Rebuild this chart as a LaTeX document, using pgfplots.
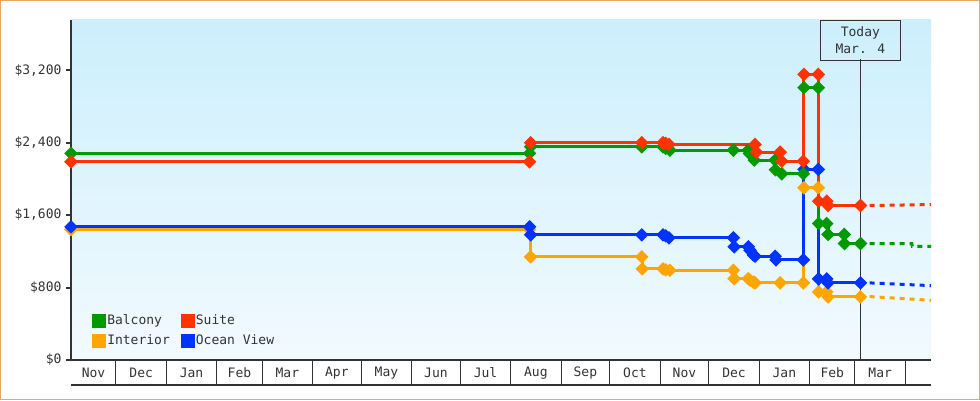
\documentclass[border=0pt]{standalone}
\usepackage{pgfplots}
\pgfplotsset{compat=1.18}
\usepackage{fontspec}
\setmainfont{DejaVu Sans Mono}
\definecolor{cgreen}{RGB}{0,153,0}
\definecolor{cred}{RGB}{255,51,0}
\definecolor{corange}{RGB}{255,165,0}
\definecolor{cblue}{RGB}{0,51,255}
\definecolor{axgray}{RGB}{51,51,51}
\definecolor{bgtop}{RGB}{204,239,252}
\definecolor{bgbot}{RGB}{242,250,255}
\definecolor{framec}{RGB}{232,168,102}
\begin{document}
\fontsize{13pt}{15pt}\selectfont
\begin{tikzpicture}[x=1pt,y=1pt]
\useasboundingbox (0,0) rectangle (980,400);
\draw[framec, line width=1pt] (0.5,0.5) rectangle (979.5,399.5);
\begin{axis}[
  at={(71pt,40pt)}, anchor=south west,
  width=860pt, height=340pt, scale only axis,
  xmin=2.3, xmax=531.8, ymin=0, ymax=3752,
  axis background/.style={top color=bgtop, bottom color=bgbot},
  axis x line*=bottom, axis y line*=left,
  axis line style={line width=2pt, axgray},
  clip=false,
  tick align=outside, major tick length=5pt,
  ytick={0,800,1600,2400,3200},
  yticklabels={{\$0},{\$800},{\$1,600},{\$2,400},{\$3,200}},
  ytick style={line width=2pt, axgray},
  xtick={16.2,45.5,76.5,106,135.5,166,196.5,227,257.5,288.5,319,349.5,380,410.5,441.5,471,500.5},
  xticklabels={Nov,Dec,Jan,Feb,Mar,Apr,May,Jun,Jul,Aug,Sep,Oct,Nov,Dec,Jan,Feb,Mar},
  xtick style={draw=none},
  xticklabel style={anchor=center, yshift=-8pt},
  tick label style={font=\fontsize{13pt}{15pt}\selectfont, text=axgray},
  legend image code/.code={\fill[#1] (0pt,-5.5pt) rectangle (11pt,5.5pt);},
  legend columns=2,
  legend cell align=left,
  legend style={at={(0.021,0.03)}, anchor=south west, draw=none, fill=none,
    font=\fontsize{13pt}{15pt}\selectfont, text=axgray, row sep=6pt,
    nodes={inner xsep=1pt, inner ysep=1pt},
    /tikz/every even column/.append style={column sep=10pt}},
  every axis plot/.append style={const plot, line width=3pt, mark=square*, mark size=3.3pt, mark options={rotate=45, solid}},
]
% month band
\pgfplotsinvokeforeach{30,61,92,120,151,181,212,242,273,304,334,365,395,426,457,485,516}{
  \draw[axgray, line width=1pt] (axis cs:#1,0) -- ([yshift=-25pt]axis cs:#1,0);
}
\draw[axgray, line width=1.5pt] ([yshift=-25pt]rel axis cs:0,0) -- ([yshift=-25pt]rel axis cs:1,0);
% today
\draw[axgray, line width=1pt] (axis cs:488.3,0) -- (axis cs:488.3,3318);
\node[draw=axgray, line width=1pt, minimum width=80pt, minimum height=40pt, anchor=north, align=center, text=axgray, inner sep=2pt]
  at (axis cs:488.3,3752) {Today\\[2pt]Mar. 4};

\addlegendimage{cgreen}\addlegendentry{Balcony}
\addlegendimage{cred}\addlegendentry{Suite}
\addlegendimage{corange}\addlegendentry{Interior}
\addlegendimage{cblue}\addlegendentry{Ocean View}

% Interior
\addplot[corange, forget plot] coordinates {
(2.3,1440) (284.6,1440) (285.3,1138) (353.7,1138) (354.0,1005) (366.8,1005) (368.5,995) (371.0,990)
(410.1,990) (410.6,898) (419.3,898) (420.4,880) (422.4,860) (423.5,851) (438.9,851) (453.2,851)
(453.6,1901) (462.4,1901) (462.6,751) (467.6,751) (468.4,696) (488.4,696)};
% Ocean View
\addplot[cblue, forget plot] coordinates {
(2.3,1470) (284.6,1470) (285.3,1381) (353.7,1381) (366.8,1381) (368.5,1370) (370.5,1348)
(410.1,1348) (410.6,1249) (419.3,1249) (420.4,1210) (422.4,1160) (423.5,1145) (435.8,1145) (436.4,1105)
(453.2,1105) (453.6,2103) (462.4,2103) (462.6,895) (467.6,895) (468.4,851) (488.4,851)};
% Balcony
\addplot[cgreen, forget plot] coordinates {
(2.3,2280) (284.6,2280) (285.3,2353) (353.7,2353) (366.8,2353) (368.5,2335) (371.0,2316)
(410.1,2316) (419.3,2316) (420.0,2280) (423.0,2206) (435.8,2206) (436.0,2099) (439.9,2055)
(453.2,2055) (453.6,3005) (462.4,3005) (462.6,1506) (467.6,1506) (468.4,1385) (478.4,1385) (478.5,1285) (488.4,1285)};
% Suite
\addplot[cred, forget plot] coordinates {
(2.3,2188) (284.6,2188) (285.3,2398) (353.7,2398) (366.8,2398) (368.5,2390) (370.5,2379)
(423.5,2379) (424.3,2294) (438.9,2294) (439.9,2194) (453.2,2194) (453.6,3151) (462.4,3151)
(462.6,1752) (467.6,1752) (468.4,1705) (488.4,1705)};

% projections
\addplot[corange, forget plot, sharp plot, no marks, dash pattern=on 5pt off 5pt, line width=3pt] coordinates {(494,700) (531.8,659)};
\addplot[cblue, forget plot, sharp plot, no marks, dash pattern=on 5pt off 5pt, line width=3pt] coordinates {(494,851) (531.8,821)};
\addplot[cgreen, forget plot, sharp plot, no marks, dash pattern=on 5pt off 5pt, line width=3pt] coordinates {(494,1285) (520,1285) (520.3,1255) (531.8,1255)};
\addplot[cred, forget plot, sharp plot, no marks, dash pattern=on 5pt off 5pt, line width=3pt] coordinates {(494,1705) (531.8,1715)};
\end{axis}
\end{tikzpicture}
\end{document}
